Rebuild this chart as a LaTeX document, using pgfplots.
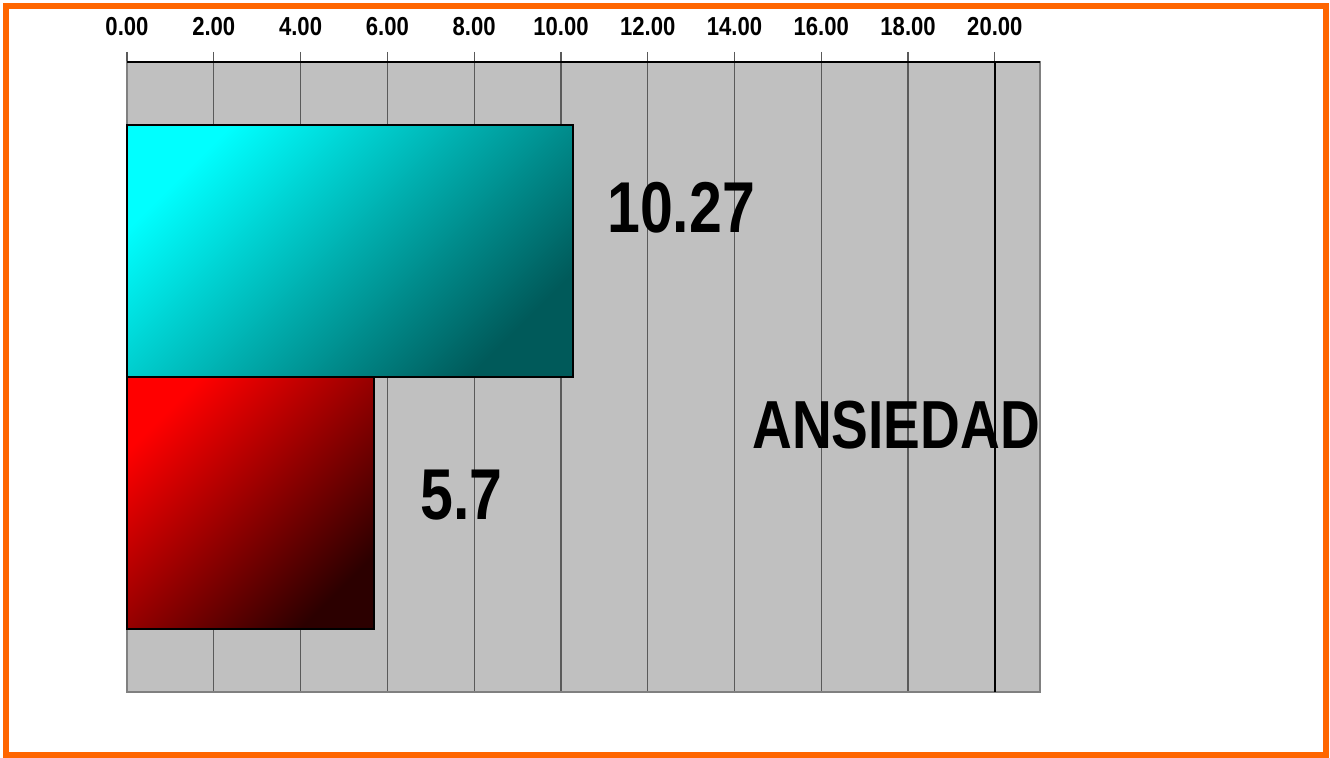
\documentclass[border=0pt]{standalone}
\usepackage{pgfplots}
\pgfplotsset{compat=1.18}
\usepackage{graphicx}
\usepackage{fontspec}
\setmainfont{Liberation Sans}
\definecolor{frameorange}{HTML}{FF6600}
\definecolor{plotbg}{HTML}{C0C0C0}
\definecolor{gridc}{HTML}{5A5A5A}
\definecolor{framegray}{HTML}{808080}
\definecolor{tealdark}{HTML}{005A5A}
\definecolor{reddark}{HTML}{2C0000}
\begin{document}
\begin{tikzpicture}
\useasboundingbox (0,0) rectangle (665pt,379pt);
\draw[frameorange, line width=3pt] (2.75pt,1.5pt) rectangle (663pt,375.75pt);
\begin{axis}[
  at={(63.5pt,33pt)}, anchor=south west,
  scale only axis, width=456.5pt, height=315pt,
  xmin=0, xmax=21.04, ymin=0, ymax=10,
  clip=false,
  axis background/.style={fill=plotbg},
  axis line style={draw=framegray, line width=1.4pt},
  xtick pos=right, xticklabel pos=right,
  tick align=outside, major tick length=5pt,
  xtick={0,2,...,20},
  ytick=\empty,
  xmajorgrids,
  grid style={gridc, line width=0.6pt},
  tick style={gridc, line width=0.6pt},
  xticklabel style={font=\bfseries\fontsize{13}{13}\selectfont, anchor=south, inner sep=0pt, yshift=8pt},
  xticklabel={\scalebox{0.85}[1]{\pgfmathprintnumber{\tick}}},
  /pgf/number format/.cd, fixed, fixed zerofill, precision=2, assume math mode=true,
]
\addplot[xbar, bar width=4, bar shift=0pt, draw=black, line width=1pt,
  top color=cyan, bottom color=tealdark, shading angle=45] coordinates {(10.27,7)};
\addplot[xbar, bar width=4, bar shift=0pt, draw=black, line width=1pt,
  top color=red, bottom color=reddark, shading angle=45] coordinates {(5.7,3)};
\draw[black, line width=1pt] (rel axis cs:0,1) -- (rel axis cs:1,1);
\draw[black, line width=0.7pt] (axis cs:20,0) -- (axis cs:20,10);
\node[anchor=base west, inner sep=0pt, font=\bfseries\fontsize{36}{36}\selectfont] at (axis cs:11.06,7.286) {\scalebox{0.82}[1]{10.27}};
\node[anchor=base west, inner sep=0pt, font=\bfseries\fontsize{36}{36}\selectfont] at (axis cs:6.75,2.73) {\scalebox{0.82}[1]{5.7}};
\node[anchor=base west, inner sep=0pt, font=\bfseries\fontsize{34}{34}\selectfont] at (axis cs:14.40,3.857) {\scalebox{0.81}[1]{ANSIEDAD}};
\end{axis}
\end{tikzpicture}
\end{document}
